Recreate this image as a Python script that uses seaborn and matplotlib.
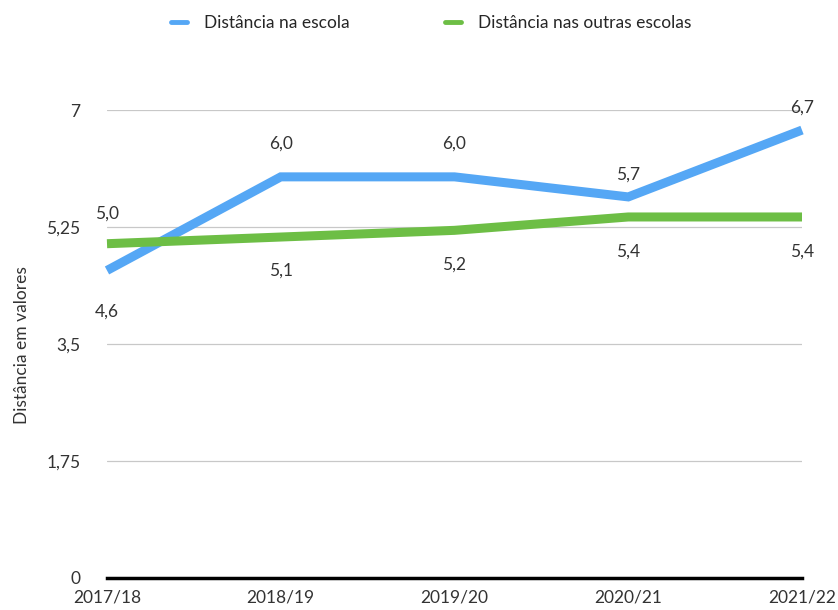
import matplotlib
matplotlib.use("Agg")
import matplotlib.pyplot as plt
import seaborn as sns
import pandas as pd
from matplotlib.lines import Line2D

categories = ["2017/18", "2018/19", "2019/20", "2020/21", "2021/22"]
escola = [4.6, 6.0, 6.0, 5.7, 6.7]
outras = [5.0, 5.1, 5.2, 5.4, 5.4]
yticks = [0, 1.75, 3.5, 5.25, 7]
ytick_labels = ["0", "1,75", "3,5", "5,25", "7"]
series_names = ["Distância na escola", "Distância nas outras escolas"]

sns.set_style("white")
plt.rcParams["font.family"] = ["Lato", "DejaVu Sans"]

df = pd.DataFrame({
    "ano": categories * 2,
    "x": list(range(len(categories))) * 2,
    "valor": escola + outras,
    "serie": [series_names[0]] * 5 + [series_names[1]] * 5,
})

blue = "#55A7F5"
green = "#6DBE45"
txt = "#333333"

fig = plt.figure(figsize=(8.38, 6.10), dpi=100)
ax = fig.add_axes([107/838, 32/610, (802-107)/838, (578-110)/610])

sns.lineplot(data=df, x="x", y="valor", hue="serie", palette=[blue, green],
             linewidth=6.5, ax=ax, legend=False, clip_on=False, zorder=3)
for ln in ax.lines:
    ln.set_solid_capstyle("butt")
    ln.set_solid_joinstyle("miter")

ax.set_xlim(0, 4)
ax.set_ylim(0, 7)
ax.set_yticks(yticks)
ax.set_yticklabels(ytick_labels, fontsize=12.5, color=txt)
ax.set_xticks(range(len(categories)))
ax.set_xticklabels(categories, fontsize=12.5, color=txt)
ax.tick_params(axis="y", length=0, pad=19)
ax.tick_params(axis="x", length=0, pad=8)

for y in yticks[1:]:
    ax.axhline(y, color="#c8c8c8", linewidth=0.9, zorder=1)

for s in ["top", "right", "left"]:
    ax.spines[s].set_visible(False)
ax.spines["bottom"].set_color("black")
ax.spines["bottom"].set_linewidth(2.5)

ax.set_xlabel("")
ax.set_ylabel("Distância em valores", fontsize=12.5, color=txt)
ax.yaxis.set_label_coords((30 - 107) / 695, 0.498)

def fmt(v):
    return f"{v:.1f}".replace(".", ",")

escola_off = [-30, 24, 24, 16, 16]
outras_off = [22, -24, -25, -25, -25]
for i, v in enumerate(escola):
    ax.annotate(fmt(v), (i, v), xytext=(0, escola_off[i]), textcoords="offset points",
                ha="center", va="center", fontsize=12.5, color=txt)
for i, v in enumerate(outras):
    ax.annotate(fmt(v), (i, v), xytext=(0, outras_off[i]), textcoords="offset points",
                ha="center", va="center", fontsize=12.5, color=txt)

handles = [Line2D([0], [0], color=blue, linewidth=3.5),
           Line2D([0], [0], color=green, linewidth=3.5)]
fig.legend(handles, series_names, loc="center", bbox_to_anchor=(0.515, 0.962),
           ncol=2, frameon=False, fontsize=12.5, handlelength=0.9,
           columnspacing=5.5, handletextpad=1.0)

fig.savefig("out.png", dpi=100)
